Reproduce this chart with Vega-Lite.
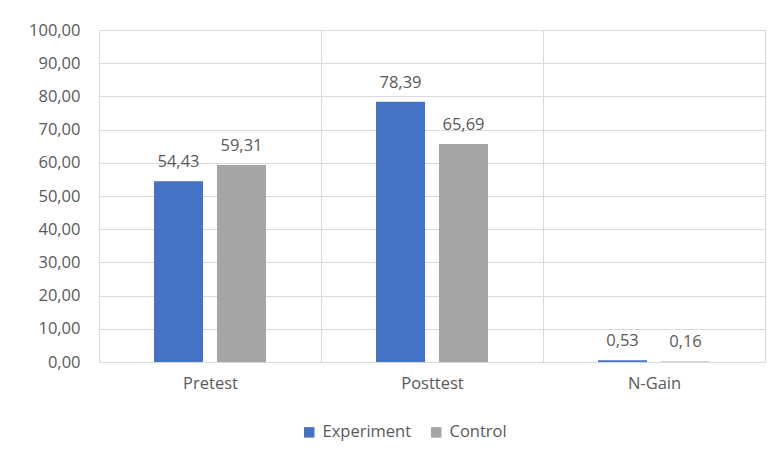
{
  "$schema": "https://vega.github.io/schema/vega-lite/v6.json",
  "width": 666,
  "height": 332,
  "autosize": "none",
  "padding": {"left": 99, "top": 30, "right": 11, "bottom": 97},
  "background": "white",
  "config": {
    "font": "Open Sans",
    "view": {"stroke": null},
    "locale": {"number": {"decimal": ",", "thousands": ".", "grouping": [3], "currency": ["", ""]}}
  },
  "data": {
    "values": [
      {"category": "Pretest", "series": "Experiment", "value": 54.43},
      {"category": "Pretest", "series": "Control", "value": 59.31},
      {"category": "Posttest", "series": "Experiment", "value": 78.39},
      {"category": "Posttest", "series": "Control", "value": 65.69},
      {"category": "N-Gain", "series": "Experiment", "value": 0.53},
      {"category": "N-Gain", "series": "Control", "value": 0.16}
    ]
  },
  "encoding": {
    "x": {
      "field": "category",
      "type": "nominal",
      "sort": ["Pretest", "Posttest", "N-Gain"],
      "scale": {"paddingInner": 0, "paddingOuter": 0},
      "axis": {
        "title": null,
        "labelAngle": 0,
        "labelFontSize": 16.5,
        "labelColor": "#595959",
        "labelPadding": 13,
        "ticks": false,
        "grid": true,
        "gridColor": "#D9D9D9",
        "tickBand": "extent",
        "domainColor": "#D9D9D9"
      }
    },
    "xOffset": {
      "field": "series",
      "type": "nominal",
      "sort": ["Experiment", "Control"],
      "scale": {"paddingInner": 0.222, "paddingOuter": 0.873}
    },
    "y": {
      "field": "value",
      "type": "quantitative",
      "scale": {"domain": [0, 100], "nice": false},
      "axis": {
        "title": null,
        "values": [0, 10, 20, 30, 40, 50, 60, 70, 80, 90, 100],
        "labelOverlap": false,
        "format": ".2f",
        "labelFontSize": 16.5,
        "labelColor": "#595959",
        "labelPadding": 19,
        "ticks": false,
        "domain": false,
        "grid": true,
        "gridColor": "#D9D9D9"
      }
    }
  },
  "layer": [
    {
      "mark": {"type": "bar"},
      "encoding": {
        "color": {
          "field": "series",
          "type": "nominal",
          "sort": ["Experiment", "Control"],
          "scale": {"domain": ["Experiment", "Control"], "range": ["#4472C4", "#A5A5A5"]},
          "legend": {
            "title": null,
            "orient": "none",
            "legendX": 202,
            "legendY": 394,
            "direction": "horizontal",
            "symbolType": "square",
            "symbolSize": 110,
            "symbolStrokeWidth": 0,
            "labelFontSize": 16.5,
            "labelColor": "#595959",
            "columnPadding": 16,
            "labelOffset": 5
          }
        }
      }
    },
    {
      "mark": {"type": "text", "baseline": "bottom", "dy": -11, "fontSize": 16.5, "color": "#595959"},
      "encoding": {
        "text": {"field": "value", "type": "quantitative", "format": ".2f"}
      }
    }
  ]
}
